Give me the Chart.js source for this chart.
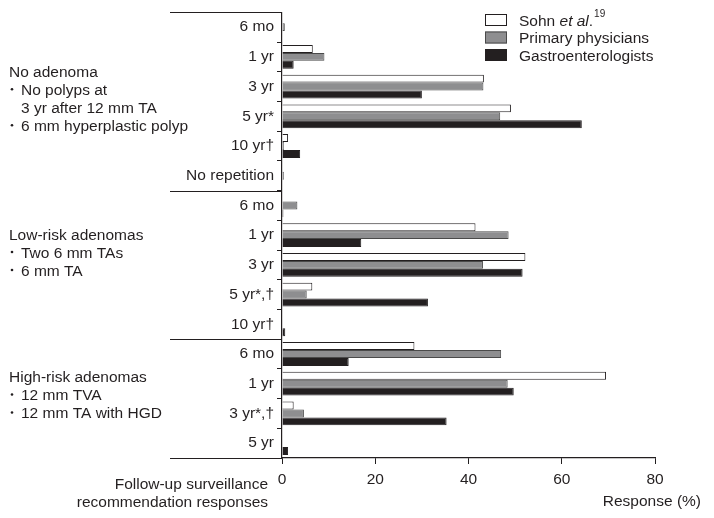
<!DOCTYPE html>
<html>
<head>
<meta charset="utf-8">
<script src="https://cdn.jsdelivr.net/npm/chart.js@4.4.1/dist/chart.umd.min.js"></script>
<style>
  html, body { margin: 0; padding: 0; background: #ffffff; }
  #wrap { width: 714px; height: 518px; position: relative; }
</style>
</head>
<body>
<div id="wrap"><canvas id="c" width="714" height="518"></canvas></div>
<script>
// ---- data ----
const categories = ['6 mo', '1 yr', '3 yr', '5 yr*', '10 yr\u2020', 'No repetition',
                    '6 mo', '1 yr', '3 yr', '5 yr*,\u2020', '10 yr\u2020',
                    '6 mo', '1 yr', '3 yr*,\u2020', '5 yr'];
const sohn      = [0,   6.6, 43.3, 49.1, 1.3, 0,   0,   41.5, 52.2, 6.5,  0,   28.4, 69.5, 2.5,  0];
const primary   = [0.6, 9.1, 43.2, 46.8, 0.4, 0.4, 3.3, 48.6, 43.1, 5.3,  0,   47.0, 48.4, 4.7,  0];
const gastro    = [0,   2.5, 30.0, 64.3, 3.9, 0,   0.3, 17.0, 51.6, 31.3, 0.7, 14.3, 49.7, 35.3, 1.3];
const seriesNames = ['Sohn et al.', 'Primary physicians', 'Gastroenterologists'];
const xTicks = [0, 20, 40, 60, 80];
const groupSizes = [6, 5, 4];
const groupTitles = ['No adenoma', 'Low-risk adenomas', 'High-risk adenomas'];
const groupItems = [
  [['No polyps at', '3 yr after 12 mm TA'], ['6 mm hyperplastic polyp']],
  [['Two 6 mm TAs'], ['6 mm TA']],
  [['12 mm TVA'], ['12 mm TA with HGD']]
];
const xTitle = 'Response (%)';
const yTitle = ['Follow-up surveillance', 'recommendation responses'];

// ---- styles ----
const INK = '#231f20';
const FONT = 'Liberation Sans, Arial, Helvetica, sans-serif';
const FS = 15.5;
const fills = ['#ffffff', '#8e8e90', '#231f20'];
const borders = ['#231f20', '#4a4a4a', '#231f20'];

const decor = {
  id: 'decor',
  afterDraw(chart) {
    const ctx = chart.ctx;
    const y = chart.scales.y;
    const ca = chart.chartArea;
    const step = y.getPixelForValue(1) - y.getPixelForValue(0);
    ctx.save();
    // group separator lines
    ctx.strokeStyle = INK;
    ctx.lineWidth = 1.2;
    let idx = 0;
    const bounds = [0];
    groupSizes.forEach(n => { idx += n; bounds.push(idx); });
    bounds.forEach(b => {
      const py = Math.round(y.getPixelForValue(b) - step / 2) + 0.5;
      ctx.beginPath();
      ctx.moveTo(170, py);
      ctx.lineTo(ca.left, py);
      ctx.stroke();
    });
    // group labels
    ctx.fillStyle = INK;
    ctx.font = FS + 'px ' + FONT;
    ctx.textAlign = 'left';
    ctx.textBaseline = 'alphabetic';
    const firstBase = [76.7, 239.5, 382];
    const lh = 18;
    groupTitles.forEach((t, g) => {
      let by = firstBase[g];
      ctx.fillText(t, 9, by);
      groupItems[g].forEach(item => {
        item.forEach((line, li) => {
          by += lh;
          if (li === 0) {
            ctx.beginPath();
            ctx.arc(12, by - 5.5, 1.3, 0, Math.PI * 2);
            ctx.fill();
          }
          ctx.fillText(line, 21, by);
        });
      });
    });
    // y axis title (bottom-left)
    ctx.textAlign = 'right';
    ctx.fillText(yTitle[0], 268, 489);
    ctx.fillText(yTitle[1], 268, 507);
    // x axis title
    ctx.textAlign = 'right';
    ctx.fillText(xTitle, 701, 506);
    // legend
    const lx = 485, lw = 22, lhgt = 12;
    const ly = [20, 37.5, 55];
    ctx.textAlign = 'left';
    for (let i = 0; i < 3; i++) {
      ctx.fillStyle = fills[i];
      ctx.fillRect(lx, ly[i] - lhgt / 2, lw, lhgt);
      ctx.strokeStyle = borders[i];
      ctx.lineWidth = 1;
      ctx.strokeRect(lx + 0.5, ly[i] - lhgt / 2 + 0.5, lw - 1, lhgt - 1);
      ctx.fillStyle = INK;
      const base = ly[i] + 5.5;
      if (i === 0) {
        let x = 519;
        ctx.font = FS + 'px ' + FONT;
        ctx.fillText('Sohn ', x, base);
        x += ctx.measureText('Sohn ').width;
        ctx.font = 'italic ' + FS + 'px ' + FONT;
        ctx.fillText('et al', x, base);
        x += ctx.measureText('et al').width;
        ctx.font = FS + 'px ' + FONT;
        ctx.fillText('.', x, base);
        x += ctx.measureText('.').width + 1;
        ctx.font = '10px ' + FONT;
        ctx.fillText('19', x, base - 9);
      } else {
        ctx.font = FS + 'px ' + FONT;
        ctx.fillText(seriesNames[i], 519, base);
      }
    }
    ctx.restore();
  }
};

new Chart(document.getElementById('c'), {
  type: 'bar',
  data: {
    labels: categories,
    datasets: [sohn, primary, gastro].map((d, i) => ({
      label: seriesNames[i],
      data: d,
      backgroundColor: fills[i],
      borderColor: borders[i],
      borderWidth: 1,
      categoryPercentage: 0.8,
      barPercentage: 1.0
    }))
  },
  options: {
    indexAxis: 'y',
    responsive: false,
    animation: false,
    devicePixelRatio: 1,
    layout: { padding: { top: 8, right: 59, left: 0, bottom: 0 } },
    plugins: { legend: { display: false }, tooltip: { enabled: false } },
    scales: {
      x: {
        min: 0, max: 80,
        afterBuildTicks(s) { s.ticks = xTicks.map(v => ({ value: v })); },
        afterFit(s) { s.height = 60; },
        grid: { drawOnChartArea: false, drawTicks: true, tickLength: 6, color: INK, lineWidth: 1 },
        border: { display: true, color: INK, width: 1.2 },
        ticks: { color: INK, font: { family: FONT, size: FS }, padding: 6, maxRotation: 0 }
      },
      y: {
        afterFit(s) { s.width = 282; },
        grid: { offset: true, drawOnChartArea: false, drawTicks: true, tickLength: 5, color: INK, lineWidth: 1 },
        border: { display: true, color: INK, width: 1.2 },
        ticks: { color: INK, font: { family: FONT, size: FS }, padding: 3, autoSkip: false }
      }
    }
  },
  plugins: [decor]
});
</script>
</body>
</html>
